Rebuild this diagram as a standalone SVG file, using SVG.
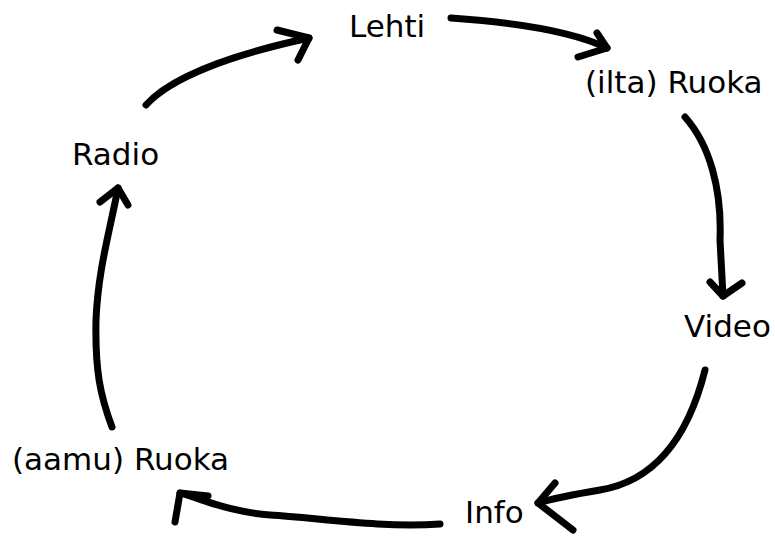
<svg xmlns="http://www.w3.org/2000/svg" width="775" height="536" viewBox="0 0 775 536">
<style>
.lbl{font-family:"DejaVu Sans",sans-serif;font-size:31px;fill:#000}
.c path{fill:none;stroke:#000;stroke-width:7;stroke-linecap:round;stroke-linejoin:round}
</style>
<rect width="775" height="536" fill="#fff"/>
<g class="c" id="connectors">
<path d="M146,105 C170,78 230,55 309,38"/>
<path d="M277,30 L309,38 L298,60"/>
<path d="M451,18 C510,22 570,30 607,48"/>
<path d="M597,33 L607,48 L578,57"/>
<path d="M685,117 C710,145 722,190 720,240 L723,296"/>
<path d="M710,282 L723,296 L742,283"/>
<path d="M705,370 C690,430 660,480 600,490 C570,495 555,498 538,503"/>
<path d="M555,483 L538,503 L573,530"/>
<path d="M440,524 C380,528 320,518 270,515 C230,512 205,500 180,493"/>
<path d="M208,496 L180,493 L175,522"/>
<path d="M112,427 C100,395 95,370 96,320 C98,270 110,230 118,188"/>
<path d="M100,202 L118,188 L128,205"/>
</g>
<g id="lehti"><text class="lbl" x="349" y="37">Lehti</text></g>
<g id="ilta-ruoka"><text class="lbl" x="585" y="93">(ilta) Ruoka</text></g>
<g id="video"><text class="lbl" x="684" y="337">Video</text></g>
<g id="info"><text class="lbl" x="465" y="523">Info</text></g>
<g id="aamu-ruoka"><text class="lbl" x="12" y="470">(aamu) Ruoka</text></g>
<g id="radio"><text class="lbl" x="72" y="165">Radio</text></g>
</svg>
